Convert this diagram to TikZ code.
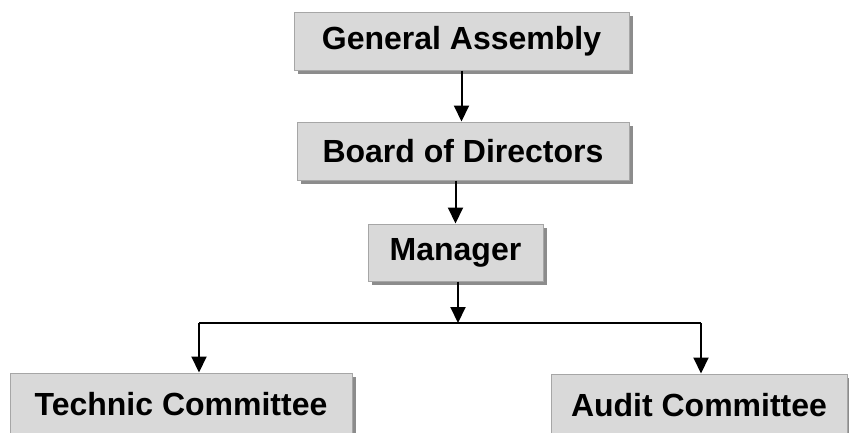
\documentclass[tikz,border=0pt]{standalone}
\usepackage{fontspec}
\setmainfont{Liberation Sans}
\usetikzlibrary{arrows.meta}
\usetikzlibrary{shadows}

\begin{document}
\begin{tikzpicture}[x = 1pt, y = -1pt, font=\fontsize{32}{38}\selectfont\bfseries]
	\tikzstyle{boxStyle} = [shape = rectangle, draw = black!35, line width = 1pt, fill = gray!30, inner sep = 0pt, drop shadow = {shadow xshift = 4pt, shadow yshift = -4pt, opacity = 0.45, fill = black}]
	\tikzstyle{arrowStyle} = [line width = 2pt, -{Triangle[length = 16pt, width = 15pt]}]
	\tikzstyle{lineStyle} = [line width = 2pt]
	\clip (0, 0) rectangle (849, 432);
	\node[boxStyle, minimum width = 335pt, minimum height = 58pt] (ga) at (461.5, 41) {General Assembly};
	\node[boxStyle, minimum width = 332pt, minimum height = 58pt] (bod) at (463, 151) {Board of Directors};
	\node[boxStyle, minimum width = 175pt, minimum height = 57pt] (mgr) at (455.5, 252.5) {Manager};
	\node[boxStyle, minimum width = 342pt, minimum height = 62pt] (tc) at (181, 404) {Technic Committee};
	\node[boxStyle, minimum width = 296pt, minimum height = 62pt] (ac) at (699, 405) {Audit Committee};
	\coordinate (split) at (458, 323);
	\coordinate (lft) at (199, 323);
	\coordinate (rgt) at (701, 323);
	\draw[arrowStyle] (ga.south) -- (ga.south |- bod.north);
	\draw[arrowStyle] (bod.south -| mgr.north) -- (mgr.north);
	\draw[arrowStyle] (mgr.south -| split) -- (split);
	\draw[lineStyle] (lft) -- (rgt);
	\draw[arrowStyle] (lft) -- (lft |- tc.north);
	\draw[arrowStyle] (rgt) -- (rgt |- ac.north);
\end{tikzpicture}
\end{document}
